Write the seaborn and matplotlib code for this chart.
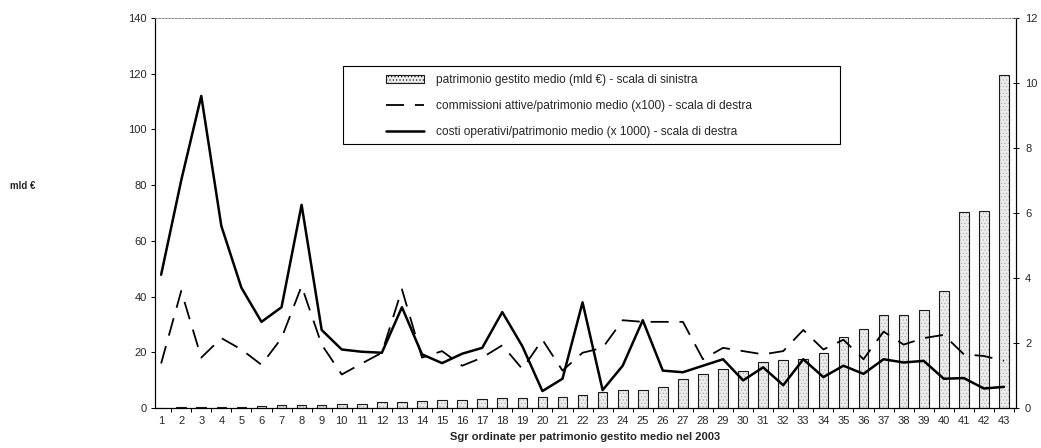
import matplotlib
matplotlib.use("Agg")
import matplotlib.pyplot as plt
import seaborn as sns
import numpy as np
import pandas as pd
from matplotlib.ticker import FixedLocator, NullFormatter
from matplotlib.patches import Patch, Rectangle

sgr = list(range(1, 44))
patrimonio = [0.1, 0.2, 0.3, 0.4, 0.5, 0.8, 0.9, 1.0, 1.2, 1.5, 1.6, 2.1, 2.3, 2.6, 2.7,
              3.0, 3.3, 3.5, 3.6, 3.9, 4.1, 4.7, 5.8, 6.6, 6.6, 7.6, 10.5, 12.2, 14.0, 13.4,
              16.6, 17.3, 17.5, 19.8, 25.5, 28.4, 33.5, 33.5, 35.3, 42.0, 70.4, 70.8, 119.5]
commissioni = [1.37, 3.6, 1.55, 2.15, 1.8, 1.33, 2.15, 3.75, 1.95, 1.03, 1.37, 1.7, 3.65, 1.55, 1.75,
               1.3, 1.55, 1.93, 1.2, 2.1, 1.15, 1.7, 1.85, 2.7, 2.65, 2.65, 2.65, 1.5, 1.85, 1.75,
               1.65, 1.75, 2.4, 1.8, 2.1, 1.5, 2.35, 1.95, 2.15, 2.25, 1.65, 1.6, 1.45]
costi = [4.1, 7.0, 9.6, 5.6, 3.7, 2.65, 3.1, 6.25, 2.4, 1.8, 1.73, 1.7, 3.1, 1.65, 1.38,
         1.67, 1.85, 2.95, 1.9, 0.52, 0.9, 3.25, 0.55, 1.3, 2.7, 1.15, 1.1, 1.3, 1.5, 0.85,
         1.25, 0.7, 1.5, 0.95, 1.3, 1.05, 1.5, 1.4, 1.45, 0.9, 0.92, 0.6, 0.65]

lab_bar = "patrimonio gestito medio (mld €) - scala di sinistra"
lab_comm = "commissioni attive/patrimonio medio (x100) - scala di destra"
lab_costi = "costi operativi/patrimonio medio (x 1000) - scala di destra"

sns.set_theme(style="white")
plt.rcParams['font.family'] = ['Liberation Sans', 'DejaVu Sans']
plt.rcParams['hatch.linewidth'] = 0.5

df = pd.DataFrame({"sgr": [str(s) for s in sgr], "idx": np.arange(len(sgr)),
                   "patrimonio": patrimonio, "commissioni": commissioni, "costi": costi})

W, H = 1041, 448
fig = plt.figure(figsize=(W / 100, H / 100), dpi=100)
ax = fig.add_axes([0.149, 0.0893, 0.827, 0.8707])

# dotted fill layer
sns.barplot(data=df, x="sgr", y="patrimonio", ax=ax, color="#ececec", width=0.48,
            edgecolor="#b0b0b0", linewidth=0, saturation=1)
for p in ax.patches:
    p.set_hatch(".....")
n_fill = len(ax.patches)
# outline layer
sns.barplot(data=df, x="sgr", y="patrimonio", ax=ax, width=0.48, fill=False,
            edgecolor="#1a1a1a", linewidth=0.8)
for p in ax.patches[n_fill:]:
    p.set_facecolor("none")
    p.set_edgecolor("#1a1a1a")

ax2 = ax.twinx()
sns.lineplot(data=df, x="idx", y="commissioni", ax=ax2, color="black", linewidth=1.3,
             label=lab_comm)
ax2.lines[-1].set_dashes([10, 6])
sns.lineplot(data=df, x="idx", y="costi", ax=ax2, color="black", linewidth=1.8,
             label=lab_costi)

ax.set_xlim(-0.3, 42.6)
ax.set_ylim(0, 140)
ax2.set_ylim(0, 12)
ax.set_yticks(np.arange(0, 141, 20))
ax2.set_yticks(np.arange(0, 13, 2))

ax.set_xlabel("Sgr ordinate per patrimonio gestito medio nel 2003", fontsize=8,
              fontweight="bold", labelpad=4)
ax.set_ylabel("")
ax2.set_ylabel("")
fig.text(0.01, 0.585, "mld €", fontsize=7, fontweight="bold", ha="left", va="center")

ax.tick_params(axis="x", which="major", length=0, labelsize=8, pad=6)
ax.xaxis.set_minor_locator(FixedLocator(np.arange(-0.5, 43, 1)))
ax.xaxis.set_minor_formatter(NullFormatter())
ax.tick_params(axis="x", which="minor", length=3, width=0.7, color="black", direction="out",
               bottom=True)
ax.tick_params(axis="y", length=3, width=0.7, color="black", direction="out", labelsize=8,
               left=True, pad=3)
ax2.tick_params(axis="y", length=5, width=0.7, color="black", direction="inout", labelsize=8,
                right=True, pad=4)

for a in (ax, ax2):
    for s in ("left", "bottom", "right"):
        a.spines[s].set_color("black")
        a.spines[s].set_linewidth(0.8)
    a.spines["top"].set_color("#888888")
    a.spines["top"].set_linewidth(0.6)
    a.spines["top"].set_linestyle((0, (2, 2)))

bar_handle = Patch(facecolor="#ececec", edgecolor="#1a1a1a", linewidth=0.8, hatch=".....")
h2, l2 = ax2.get_legend_handles_labels()
if ax.get_legend():
    ax.get_legend().remove()
if ax2.get_legend():
    ax2.get_legend().remove()

# legend box (frame drawn separately, wider than text as in the original)
fig.patches.append(Rectangle((343 / W, 1 - 144 / H), 497 / W, 78 / H,
                             transform=fig.transFigure, facecolor="white",
                             edgecolor="black", linewidth=0.8, zorder=5))
leg = fig.legend([bar_handle] + h2, [lab_bar] + l2, loc="center left",
                 bbox_to_anchor=(386 / W, 1 - 106 / H),
                 fontsize=8.6, frameon=False, borderpad=0, borderaxespad=0,
                 labelspacing=1.15, handlelength=3.2, handleheight=0.6,
                 handletextpad=1.0)
leg.set_zorder(6)

fig.savefig("out.png", dpi=100)
